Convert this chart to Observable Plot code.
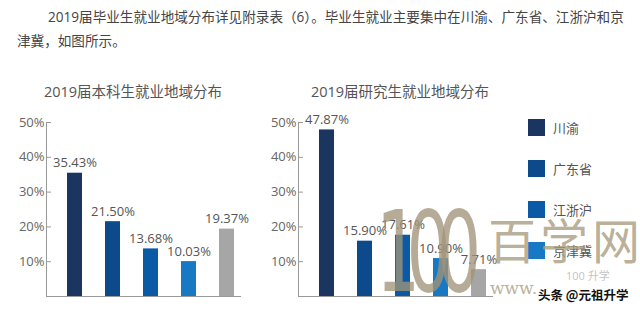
<!DOCTYPE html>
<html>
<head>
<meta charset="utf-8">
<script src="https://cdn.jsdelivr.net/npm/d3@7"></script>
<script src="https://cdn.jsdelivr.net/npm/@observablehq/plot@0.6"></script>
<style>
  html, body { margin: 0; padding: 0; background: #fff; }
  body { width: 640px; height: 311px; overflow: hidden; position: relative;
         font-family: "Open Sans", "Noto Sans CJK SC", sans-serif; color: #555; }
  .abs { position: absolute; white-space: nowrap; }
  .para { font-size: 13.6px; color: #444; line-height: 1; }
  .title { font-size: 14.5px; color: #555; transform: translateX(-50%); }
  .leg-sw { position: absolute; width: 17px; height: 17px; }
  .leg-tx { position: absolute; font-size: 13px; color: #555; }
  .wm { position: absolute; white-space: nowrap; color: rgba(168,156,128,0.8); pointer-events: none; line-height: 1; }
</style>
</head>
<body>
<div id="root"></div>
<script>
const regions = ["川渝", "广东省", "江浙沪", "京津冀", "其他"];
const undergrad = [35.43, 21.50, 13.68, 10.03, 19.37];
const graduate = [47.87, 15.90, 17.61, 10.90, 7.71];
const barColors = ["#1b3561", "#0c4a8c", "#0b5aa6", "#1778c4", "#a6a6a6"];
const legendItems = ["川渝", "广东省", "江浙沪", "京津冀"];
const yTicks = [10, 20, 30, 40, 50];
const titles = ["2019届本科生就业地域分布", "2019届研究生就业地域分布"];
const paraLines = ["2019届毕业生就业地域分布详见附录表（6）。毕业生就业主要集中在川渝、广东省、江浙沪和京", "津冀，如图所示。"];

const root = document.getElementById("root");
function addDiv(cls, text, css) {
  const d = document.createElement("div");
  d.className = cls;
  if (text != null) d.textContent = text;
  Object.assign(d.style, css);
  root.appendChild(d);
  return d;
}

addDiv("abs para", paraLines[0], {left: "48px", top: "10px"});
addDiv("abs para", paraLines[1], {left: "17px", top: "34px"});

function chart(values) {
  const data = regions.map((r, i) => ({region: r, value: values[i], color: barColors[i]}));
  return Plot.plot({
    width: 250,
    height: 210,
    marginLeft: 46,
    marginRight: 10,
    marginTop: 22,
    marginBottom: 14,
    style: {fontFamily: '"Open Sans", "Noto Sans CJK SC", sans-serif', fontSize: "13px", background: "transparent", overflow: "visible"},
    x: {domain: regions, paddingInner: 0.615, paddingOuter: 0.295, align: 0.76, axis: null},
    y: {domain: [0, 50], axis: null},
    color: {type: "identity"},
    marks: [
      Plot.barY(data, {x: "region", y: "value", fill: "color"}),
      Plot.text(data, {x: "region", y: "value", text: d => d.value.toFixed(2) + "%", dy: -10, fontSize: 13, fill: "#555"}),
      Plot.frame({anchor: "left", stroke: "#999"}),
      Plot.frame({anchor: "bottom", stroke: "#999"}),
      Plot.axisY(yTicks, {tickSize: 5, tickFormat: () => "", dx: 5, stroke: "#999", label: null}),
      Plot.axisY(yTicks, {tickSize: 0, tickPadding: 2, tickFormat: d => d + "%", fontSize: 13, fill: "#666", label: null})
    ]
  });
}

const c1 = chart(undergrad);
Object.assign(c1.style, {position: "absolute", left: "0px", top: "100px"});
root.appendChild(c1);
const c2 = chart(graduate);
Object.assign(c2.style, {position: "absolute", left: "252px", top: "100px"});
root.appendChild(c2);

addDiv("abs title", titles[0], {left: "133px", top: "80px"});
addDiv("abs title", titles[1], {left: "400px", top: "80px"});

legendItems.forEach((name, i) => {
  const y = 119 + i * 41;
  addDiv("leg-sw", null, {left: "528px", top: y + "px", background: barColors[i]});
  addDiv("leg-tx", name, {left: "553px", top: (y - 1) + "px"});
});

// watermark
addDiv("wm", "100", {left: "376px", top: "196px", fontSize: "112px", letterSpacing: "-22px", fontFamily: "DejaVu Sans", color: "rgba(160,148,120,0.78)", transform: "scaleX(0.62)", transformOrigin: "0 0"});
addDiv("wm", "百学网", {left: "488px", top: "214px", fontSize: "48px", letterSpacing: "4px", fontFamily: '"Noto Sans CJK SC"'});
addDiv("wm", "www.", {left: "490px", top: "280px", fontSize: "17px", fontFamily: "DejaVu Serif"});
addDiv("wm", "100 升学", {left: "566px", top: "270px", fontSize: "11px", color: "rgba(140,140,140,0.55)"});
addDiv("abs", "头条 @元祖升学", {left: "538px", top: "285px", fontSize: "12.5px", fontWeight: "bold", color: "#111", fontFamily: '"Noto Sans CJK SC"', textShadow: "0 0 2px #fff, 0 0 2px #fff"});
</script>
</body>
</html>
